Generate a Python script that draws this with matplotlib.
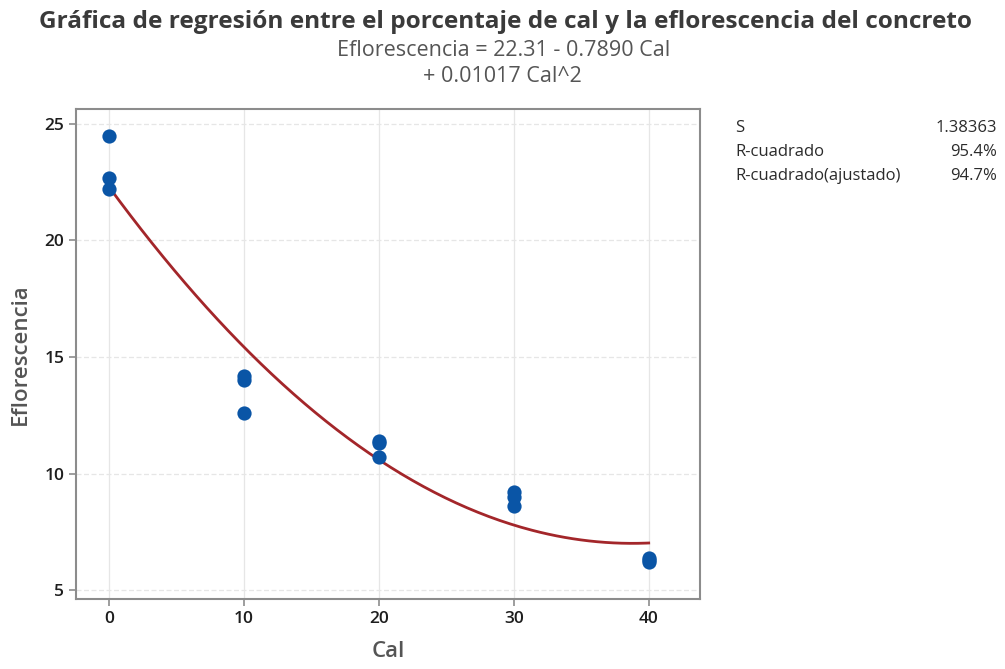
import numpy as np
import matplotlib
matplotlib.use("Agg")
import matplotlib.pyplot as plt

# Porcentaje de cal y eflorescencia medida (3 réplicas por nivel)
cal = [0, 0, 0, 10, 10, 10, 20, 20, 20, 30, 30, 30, 40, 40, 40]
eflorescencia = [24.5, 22.7, 22.2, 14.2, 14.0, 12.6, 11.4, 11.3, 10.7,
                 9.2, 9.0, 8.6, 6.4, 6.3, 6.2]

# Coeficientes del modelo cuadrático ajustado
b0, b1, b2 = 22.31, -0.7890, 0.01017

stat_names = ["S", "R-cuadrado", "R-cuadrado(ajustado)"]
stat_values = ["1.38363", "95.4%", "94.7%"]

xticks = [0, 10, 20, 30, 40]
yticks = [5, 10, 15, 20, 25]

plt.rcParams["font.family"] = ["Open Sans", "DejaVu Sans"]

fig = plt.figure(figsize=(10.05, 6.69), dpi=100)
ax = fig.add_axes([76 / 1005, 1 - 599 / 669, (700 - 76) / 1005, (599 - 109) / 669])

ax.set_xlim(-2.43, 43.8)
ax.set_ylim(4.62, 25.64)
ax.set_xticks(xticks)
ax.set_yticks(yticks)

ax.grid(True, axis="x", color="#e6e6e6", linewidth=0.9, linestyle="-")
ax.grid(True, axis="y", color="#e6e6e6", linewidth=0.9, linestyle=(0, (4, 2)))
ax.set_axisbelow(True)

xs = np.linspace(0, 40, 200)
ax.plot(xs, b0 + b1 * xs + b2 * xs ** 2, color="#a3262a", linewidth=2.0, zorder=2)
ax.scatter(cal, eflorescencia, s=105, color="#0a55a6", zorder=3, linewidths=0)

for sp in ax.spines.values():
    sp.set_color("#8c8c8c")
    sp.set_linewidth(1.5)

ax.tick_params(axis="both", colors="#8c8c8c", length=5, width=1.2,
               labelcolor="#1e1e1e", labelsize=12.5)
for lbl in ax.get_xticklabels() + ax.get_yticklabels():
    lbl.set_fontweight("semibold")

ax.set_xlabel("Cal", fontsize=16, color="#555555", fontweight="semibold", labelpad=10)
ax.set_ylabel("Eflorescencia", fontsize=16, color="#555555", fontweight="semibold", labelpad=10)

fig.text(0.5025, 1 - 22 / 669, "Gráfica de regresión entre el porcentaje de cal y la eflorescencia del concreto",
         ha="center", va="center", fontsize=17.6, fontweight="bold", color="#3a3a3a")
fig.text(0.5015, 1 - 50 / 669, "Eflorescencia = 22.31 - 0.7890 Cal",
         ha="center", va="center", fontsize=15.5, color="#555555")
fig.text(0.5, 1 - 77 / 669, "+ 0.01017 Cal^2",
         ha="center", va="center", fontsize=15.5, color="#555555")

for i, (name, val) in enumerate(zip(stat_names, stat_values)):
    y = 1 - (128 + 24 * i) / 669
    fig.text(735 / 1005, y, name, ha="left", va="center", fontsize=12, color="#2b2b2b")
    fig.text(997 / 1005, y, val, ha="right", va="center", fontsize=12, color="#2b2b2b")

fig.savefig("out.png", dpi=100)
